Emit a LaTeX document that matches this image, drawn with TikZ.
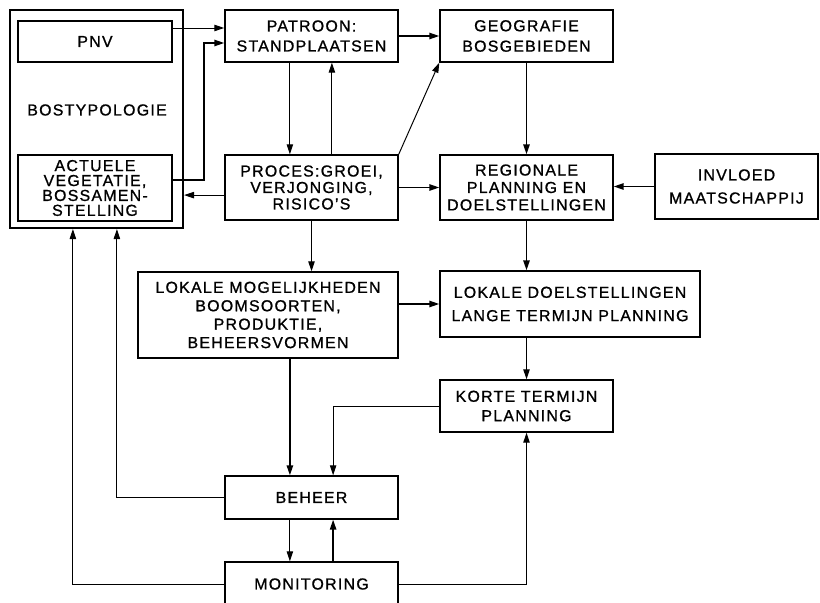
\documentclass[tikz,border=0pt]{standalone}
\usepackage{fontspec}
\setmainfont{Liberation Sans}[LetterSpace=8, FakeBold=1]
\usepackage{tikz}
\usetikzlibrary{arrows.meta,positioning,calc}
\newcommand{\boxfont}[1]{\fontsize{11.3}{#1}\selectfont}
\tikzset{planbox/.style={rectangle, draw, line width=1pt, align=center, inner sep=0pt, minimum width=4.325cm, minimum height=1.3cm}}
\tikzset{arrow/.style={line width=0.7pt, -{Triangle[length=2.5mm,width=1.6mm]}}}
\tikzset{heavy/.style={line width=1.1pt}}

\begin{document}
\begin{tikzpicture}[x=0.025cm, y=-0.025cm]
  \useasboundingbox (0,0) rectangle (820,603);

  \node[planbox, line width=1.4pt, minimum height=5.45cm] (bos) at (96.5,119) {};
  \node[planbox, minimum width=3.85cm, minimum height=1.025cm, font=\boxfont{14}] (pnv) at (95,41.5) {PNV};
  \node[font=\boxfont{14}] (bos-typ) at (97,110) {BOSTYPOLOGIE};
  \node[planbox, minimum width=3.85cm, minimum height=1.65cm, font=\boxfont{10.6}] (actuele) at (95,188) {ACTUELE\\VEGETATIE,\\BOSSAMEN-\\STELLING};

  \node[planbox, font=\boxfont{14.2}] (patroon) at (311.5,36) {PATROON:\\STANDPLAATSEN};
  \node[planbox, minimum height=1.625cm, font=\boxfont{11.7}] (proces) at (311.5,187.5) {PROCES:GROEI,\\VERJONGING,\\RISICO'S};
  \node[planbox, font=\boxfont{14.5}] (geografie) at (526.5,36) {GEOGRAFIE\\BOSGEBIEDEN};
  \node[planbox, minimum height=1.625cm, font=\boxfont{12.4}] (regionale) at (526.5,187.5) {REGIONALE\\PLANNING EN\\DOELSTELLINGEN};
  \node[planbox, minimum width=4.075cm, minimum height=1.625cm, font=\boxfont{16.4}] (invloed) at (736.5,186.5) {INVLOED\\MAATSCHAPPIJ};

  \node[planbox, minimum width=6.5cm, minimum height=2.15cm, font=\boxfont{13.1}] (lok-mog) at (268,315) {LOKALE MOGELIJKHEDEN\\BOOMSOORTEN,\\PRODUKTIE,\\BEHEERSVORMEN};
  \node[planbox, minimum width=6.5cm, minimum height=1.65cm, font=\boxfont{16.6}] (lok-doel) at (570,304) {LOKALE DOELSTELLINGEN\\LANGE TERMIJN PLANNING};
  \node[planbox, font=\boxfont{13.8}] (korte) at (526.5,406) {KORTE TERMIJN\\PLANNING};

  \node[planbox, minimum height=1.075cm, font=\boxfont{14}] (beheer) at (311.5,497.5) {BEHEER};
  \node[planbox, minimum height=1.1cm, font=\boxfont{14}] (monitoring) at (311.5,584) {MONITORING};

  \coordinate (pat-in-1) at ([yshift=0.2cm]patroon.west);
  \coordinate (pat-in-2) at ([yshift=-0.175cm]patroon.west);
  \coordinate (pro-out) at ([yshift=-0.19cm]proces.west);
  \coordinate (beh-in-1) at ([xshift=-0.54cm]beheer.north);
  \coordinate (beh-in-2) at ([xshift=0.54cm]beheer.north);

  \draw[arrow] (pnv.east |- pat-in-1) -- (pat-in-1);
  \draw[arrow, heavy] ([yshift=0.2cm]actuele.east) -- ++(31,0) |- (pat-in-2);
  \draw[arrow] (pro-out) -- (pro-out -| bos.east);

  \draw[arrow] ([xshift=-0.54cm]patroon.south) -- ([xshift=-0.54cm]proces.north);
  \draw[arrow] ([xshift=0.51cm]proces.north) -- ([xshift=0.51cm]patroon.south);
  \draw[arrow, heavy] (patroon) -- (geografie);
  \draw[arrow] (proces.north east) -- (geografie.south west);
  \draw[arrow, heavy] (proces) -- (regionale);
  \draw[arrow, heavy] (geografie) -- (regionale);
  \draw[arrow, heavy] (invloed.west) -- (invloed.west -| regionale.east);

  \draw[arrow, heavy] (regionale) -- (regionale |- lok-doel.north);
  \draw[arrow] (proces) -- (proces |- lok-mog.north);
  \draw[arrow, heavy] (lok-mog.east |- lok-doel) -- (lok-doel.west);
  \draw[arrow] (korte |- lok-doel.south) -- (korte.north);

  \draw[arrow] (korte.west) -| (beh-in-2);
  \draw[arrow, heavy] (lok-mog.south -| beh-in-1) -- (beh-in-1);
  \draw[arrow] (beheer.west) -| ([xshift=0.51cm]bos.south);
  \draw[arrow] (monitoring.west) -| ([xshift=-0.59cm]bos.south);

  \draw[arrow] (beh-in-1 |- beheer.south) -- (beh-in-1 |- monitoring.north);
  \draw[arrow, heavy] (beh-in-2 |- monitoring.north) -- (beh-in-2 |- beheer.south);
  \draw[arrow] (monitoring.east) -| (korte.south);
\end{tikzpicture}
\end{document}
